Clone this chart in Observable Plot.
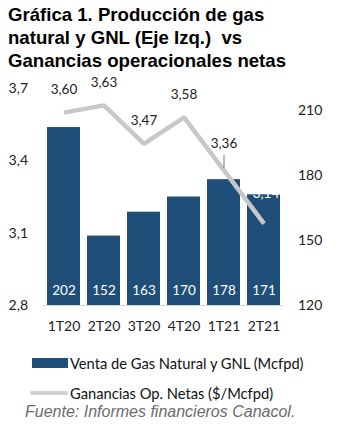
<!DOCTYPE html>
<html>
<head>
<meta charset="utf-8">
<script src="https://cdn.jsdelivr.net/npm/d3@7"></script>
<script src="https://cdn.jsdelivr.net/npm/@observablehq/plot@0.6"></script>
<style>
  html, body { margin: 0; padding: 0; background: #fff; }
  body { position: relative; width: 341px; height: 425px; overflow: hidden; }
  #title { position: absolute; left: 8px; top: 3px; font-family: "Liberation Sans", Arial, sans-serif; font-weight: bold; font-size: 18.6px; line-height: 23px; color: #000; white-space: nowrap; }
  #chart { position: absolute; left: 0; top: 72px; }
  .leg { position: absolute; font-family: Lato, sans-serif; font-size: 14.7px; color: #111; white-space: nowrap; }
  .sw { position: absolute; }
  #caption { position: absolute; left: 25px; top: 403px; font-family: "Liberation Sans", Arial, sans-serif; font-style: italic; font-size: 16px; color: #6b6b6b; white-space: nowrap; }
</style>
</head>
<body>
<div id="title">Gráfica 1. Producción de gas<br>natural y GNL (Eje Izq.)&nbsp; vs<br>Ganancias operacionales netas</div>
<div id="chart"></div>
<div class="sw" style="left:32px;top:358px;width:36px;height:10px;background:#1f4e79;"></div>
<div class="leg" style="left:70px;top:354px;">Venta de Gas Natural y GNL (Mcfpd)</div>
<div class="sw" style="left:30px;top:391px;width:38px;height:4px;background:#d0d0d0;border-radius:2px;"></div>
<div class="leg" style="left:70px;top:384px;">Ganancias Op. Netas ($/Mcfpd)</div>
<div id="caption">Fuente: Informes financieros Canacol.</div>
<script>
const quarters = ["1T20", "2T20", "3T20", "4T20", "1T21", "2T21"];
const ventas = [202, 152, 163, 170, 178, 171];          // right axis (Mcfpd)
const ganancias = [3.60, 3.63, 3.47, 3.58, 3.36, 3.14]; // left axis ($/Mcfpd)
const leftTicks = [2.8, 3.1, 3.4, 3.7];
const rightTicks = [120, 150, 180, 210];
const leftDomain = [2.8, 3.7];
const rightDomain = [120, 220];

const toLeft = v => leftDomain[0] + (v - rightDomain[0]) / (rightDomain[1] - rightDomain[0]) * (leftDomain[1] - leftDomain[0]);
const fromLeft = y => rightDomain[0] + (y - leftDomain[0]) / (leftDomain[1] - leftDomain[0]) * (rightDomain[1] - rightDomain[0]);
const fmt2 = d => d3.format(".2f")(d).replace(".", ",");
const fmt1 = d => d3.format(".1f")(d).replace(".", ",");

const data = quarters.map((q, i) => ({q, v: ventas[i], vy: toLeft(ventas[i]), g: ganancias[i], i}));
const n = data.length;

const chart = Plot.plot({
  width: 341,
  height: 268,
  marginLeft: 42.5,
  marginRight: 57.5,
  marginTop: 16,
  marginBottom: 35,
  style: {fontFamily: "Lato, sans-serif", color: "#222", background: "transparent"},
  x: {domain: quarters, paddingInner: 0.18, paddingOuter: 0.09},
  y: {domain: leftDomain},
  marks: [
    Plot.barY(data, {x: "q", y1: leftDomain[0], y2: "vy", fill: "#1f4e79"}),
    Plot.ruleY([leftDomain[0]], {stroke: "#d9d9d9", strokeWidth: 1.2}),
    Plot.text(data, {x: "q", y: leftDomain[0], text: d => String(d.v), fill: "white", fontSize: 13.5, dy: -15}),
    Plot.line(data, {x: "q", y: "g", stroke: "#c8c8c8", strokeWidth: 4.5, strokeLinejoin: "miter", strokeLinecap: "butt"}),
    Plot.text(data.filter(d => d.i < n - 2), {x: "q", y: "g", text: d => fmt2(d.g), fontSize: 13.5, fill: "#222", dy: -23}),
    Plot.text(data.filter(d => d.i === n - 2), {x: "q", y: "g", text: d => fmt2(d.g), fontSize: 13.5, fill: "#222", dy: -27}),
    Plot.ruleX(data.filter(d => d.i === n - 2), {x: "q", y1: "g", y2: "g", stroke: "#555", strokeWidth: 0.8, insetTop: -15, insetBottom: 2}),
    Plot.text(data.filter(d => d.i === n - 1), {x: "q", y: "g", text: d => fmt2(d.g), fontSize: 13.5, fill: "white", dy: -30, dx: 2}),
    Plot.axisX({tickSize: 0, tickPadding: 16, fontSize: 14, label: null}),
    Plot.axisY(leftTicks, {anchor: "left", tickSize: 0, tickPadding: 15, fontSize: 14, tickFormat: fmt1, label: null}),
    Plot.axisY(rightTicks.map(toLeft), {anchor: "right", tickSize: 0, tickPadding: 14, fontSize: 14, tickFormat: d => String(Math.round(fromLeft(d))), label: null})
  ]
});
document.getElementById("chart").appendChild(chart);
</script>
</body>
</html>
